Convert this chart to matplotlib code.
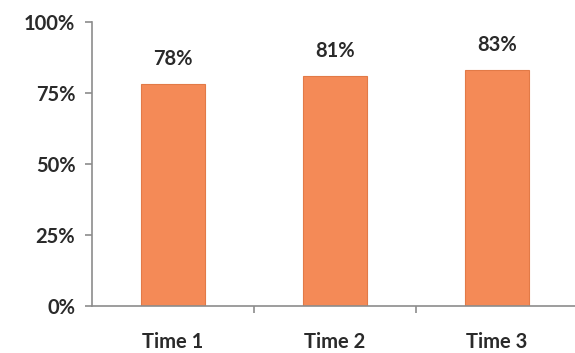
import matplotlib.pyplot as plt
from matplotlib.ticker import FixedLocator, NullFormatter

categories = ['Time 1', 'Time 2', 'Time 3']
values = [78, 81, 83]
y_ticks = [0, 25, 50, 75, 100]

plt.rcParams['font.family'] = ['Lato', 'DejaVu Sans']

fig = plt.figure(figsize=(5.75, 3.53), dpi=100)
ax = fig.add_axes([0.16, 0.133, 0.845, 0.805])

x = range(len(categories))
ax.bar(x, values, width=0.4, color='#F48A57', edgecolor='#E27A47', linewidth=0.8)

for xi, v in zip(x, values):
    ax.annotate(f'{v}%', (xi, v), xytext=(0, 11), textcoords='offset points',
                ha='center', va='bottom', fontsize=14.5, fontweight='bold', color='#2a2a2a')

ax.set_xlim(-0.5, len(categories) - 0.5)
ax.set_ylim(0, 100)
ax.set_yticks(y_ticks)
ax.set_yticklabels([f'{t}%' for t in y_ticks])
ax.set_xticks(list(x))
ax.set_xticklabels(categories)
ax.xaxis.set_minor_locator(FixedLocator([0.5, 1.5]))
ax.xaxis.set_minor_formatter(NullFormatter())

for side in ['top', 'right']:
    ax.spines[side].set_visible(False)
for side in ['left', 'bottom']:
    ax.spines[side].set_color('#8c8c8c')
    ax.spines[side].set_linewidth(1.2)

ax.tick_params(axis='y', length=5, width=1.2, color='#8c8c8c', labelsize=14.5,
               labelcolor='#2a2a2a', pad=7)
ax.tick_params(axis='x', which='major', length=0, labelsize=14.5, labelcolor='#2a2a2a', pad=19)
ax.tick_params(axis='x', which='minor', length=5, width=1.2, color='#8c8c8c')
for lbl in ax.get_xticklabels() + ax.get_yticklabels():
    lbl.set_fontweight('bold')

fig.savefig('out.png', dpi=100)
